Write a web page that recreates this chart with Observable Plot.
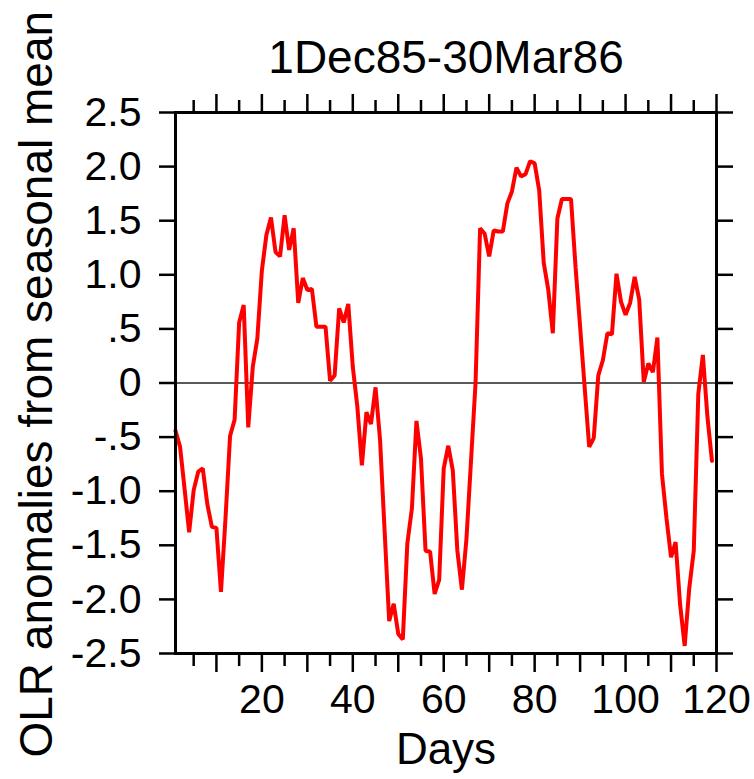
<!DOCTYPE html>
<html><head><meta charset="utf-8">
<script src="https://cdn.jsdelivr.net/npm/d3@7"></script>
<script src="https://cdn.jsdelivr.net/npm/@observablehq/plot@0.6"></script>
<style>body{margin:0;background:#fff;} svg{display:block;}</style>
</head><body><div id="chart"></div>
<script>
const title = "1Dec85-30Mar86";
const xTitle = "Days";
const yTitle = "OLR anomalies from seasonal mean";
const days = d3.range(1, 120);
const olr = [
 -0.44,-0.59,-0.98,-1.38,-0.99,-0.82,-0.79,-1.12,-1.33,-1.34,
 -1.93,-1.25,-0.49,-0.34, 0.56, 0.72,-0.41, 0.15, 0.41, 1.04,
  1.37, 1.53, 1.21, 1.17, 1.55, 1.23, 1.43, 0.74, 0.97, 0.86,
  0.87, 0.52, 0.52, 0.52, 0.02, 0.07, 0.69, 0.56, 0.73, 0.15,
 -0.22,-0.76,-0.27,-0.38,-0.04,-0.53,-1.37,-2.20,-2.04,-2.32,
 -2.37,-1.48,-1.16,-0.35,-0.70,-1.55,-1.56,-1.95,-1.82,-0.79,
 -0.58,-0.81,-1.55,-1.91,-1.44,-0.72, 0.00, 1.43, 1.38, 1.17,
  1.41, 1.40, 1.40, 1.66, 1.77, 1.99, 1.91, 1.93, 2.05, 2.03,
  1.78, 1.11, 0.86, 0.46, 1.52, 1.70, 1.70, 1.70, 1.07, 0.52,
 -0.04,-0.59,-0.51, 0.07, 0.21, 0.46, 0.45, 1.01, 0.75, 0.63,
  0.74, 0.98, 0.77, 0.01, 0.18, 0.10, 0.42,-0.84,-1.25,-1.61,
 -1.47,-2.05,-2.43,-1.90,-1.55,-0.10, 0.26,-0.31,-0.72
];
const yTicks = [-2.5,-2,-1.5,-1,-0.5,0,0.5,1,1.5,2,2.5];
const yTickLabels = ["-2.5","-2.0","-1.5","-1.0","-.5","0",".5","1.0","1.5","2.0","2.5"];
const xLabelTicks = [20,40,60,80,100,120];
const xMajorTicks = [10,20,30,40,50,60,70,80,90,100,110,120];
const xMinorTicks = [5,15,25,35,45,55,65,75,85,95,105,115];

const data = days.map((d, i) => ({day: d, v: olr[i]}));
const blank = () => "";

const chart = Plot.plot({
  width: 754, height: 779,
  marginTop: 112, marginLeft: 175, marginRight: 38, marginBottom: 126,
  style: {fontFamily: "'Liberation Sans', Arial, Helvetica, sans-serif", fontSize: "41px", color: "#000", background: "#fff"},
  x: {domain: [1, 120], label: null},
  y: {domain: [-2.5, 2.5], label: null},
  marks: [
    Plot.ruleY([0], {stroke: "#222", strokeWidth: 1.6}),
    Plot.line(data, {x: "day", y: "v", stroke: "#ff0000", strokeWidth: 4, strokeLinejoin: "miter"}),
    Plot.frame({stroke: "#000", strokeWidth: 3}),
    Plot.axisX(xMinorTicks, {anchor: "bottom", tickSize: 13, strokeWidth: 2.5, tickFormat: blank, label: null}),
    Plot.axisX(xMajorTicks, {anchor: "bottom", tickSize: 19, strokeWidth: 2.5, tickFormat: blank, label: null}),
    Plot.axisX(xMinorTicks, {anchor: "top", tickSize: 13, strokeWidth: 2.5, tickFormat: blank, label: null}),
    Plot.axisX(xMajorTicks, {anchor: "top", tickSize: 19, strokeWidth: 2.5, tickFormat: blank, label: null}),
    Plot.axisX(xLabelTicks, {anchor: "bottom", tickSize: 0, tickPadding: 30, fontSize: 41, label: null}),
    Plot.axisY(yTicks, {anchor: "left", tickSize: 16, strokeWidth: 2.5, tickPadding: 18, fontSize: 41,
      tickFormat: d => yTickLabels[yTicks.indexOf(d)], label: null}),
    Plot.axisY(yTicks, {anchor: "right", tickSize: 16, strokeWidth: 2.5, tickFormat: blank, label: null}),
    Plot.text([title], {text: d => d, frameAnchor: "top", lineAnchor: "bottom", dy: -40, fontSize: 46}),
    Plot.text([xTitle], {text: d => d, frameAnchor: "bottom", lineAnchor: "bottom", dy: 110, fontSize: 44}),
    Plot.text([yTitle], {text: d => d, frameAnchor: "bottom-left", rotate: -90, textAnchor: "start",
      lineAnchor: "bottom", dx: -124, dy: 104, fontSize: 46})
  ]
});
document.getElementById("chart").appendChild(chart);
</script>
</body></html>
